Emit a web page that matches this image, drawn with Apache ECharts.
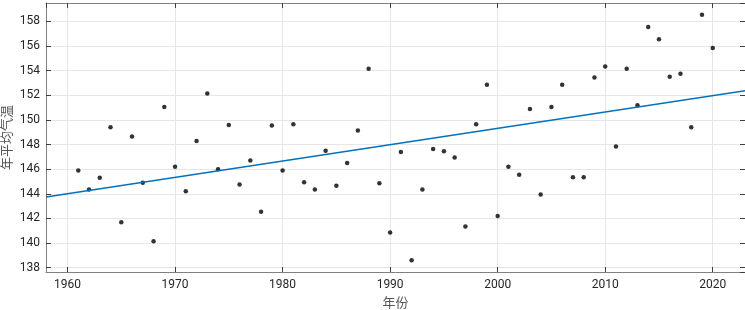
<!DOCTYPE html>
<html>
<head>
<meta charset="utf-8">
<script src="https://cdn.jsdelivr.net/npm/echarts@6/dist/echarts.min.js"></script>
<style>
  html, body { margin: 0; padding: 0; background: #fff; }
  #main { width: 745px; height: 310px; }
</style>
</head>
<body>
<div id="main"></div>
<script>
// 年份 / 年平均气温
var years = [1961, 1962, 1963, 1964, 1965, 1966, 1967, 1968, 1969, 1970,
             1971, 1972, 1973, 1974, 1975, 1976, 1977, 1978, 1979, 1980,
             1981, 1982, 1983, 1984, 1985, 1986, 1987, 1988, 1989, 1990,
             1991, 1992, 1993, 1994, 1995, 1996, 1997, 1998, 1999, 2000,
             2001, 2002, 2003, 2004, 2005, 2006, 2007, 2008, 2009, 2010,
             2011, 2012, 2013, 2014, 2015, 2016, 2017, 2018, 2019, 2020];
var temps = [145.9, 144.35, 145.3, 149.4, 141.7, 148.65, 144.9, 140.15, 151.05, 146.2,
             144.2, 148.3, 152.15, 146.0, 149.6, 144.75, 146.7, 142.55, 149.55, 145.9,
             149.65, 144.95, 144.35, 147.5, 144.65, 146.5, 149.15, 154.15, 144.85, 140.85,
             147.4, 138.6, 144.35, 147.65, 147.45, 146.95, 141.35, 149.65, 152.85, 142.2,
             146.2, 145.55, 150.9, 143.95, 151.05, 152.85, 145.35, 145.35, 153.45, 154.35,
             147.85, 154.15, 151.2, 157.55, 156.55, 153.5, 153.75, 149.4, 158.55, 155.85];
// 趋势线两端
var trendYears = [1958, 2023];
var trendTemps = [143.75, 152.38];

var xMin = 1958, xMax = 2023;
var yMin = 137.65, yMax = 159.5;

var pts = years.map(function (y, i) { return [y, temps[i]]; });
var trend = trendYears.map(function (y, i) { return [y, trendTemps[i]]; });

var labelFont = 'Roboto, "Noto Sans", sans-serif';
var axisGray = '#808080';
var tickColor = '#404040';

option = {
    animation: false,
    backgroundColor: '#fff',
    grid: { left: 46, right: 0, top: 3, bottom: 38, containLabel: false, outerBoundsMode: 'none' },
    xAxis: [{
        type: 'value',
        min: xMin,
        max: xMax,
        splitNumber: 6,
        name: '年份',
        nameLocation: 'middle',
        nameGap: 24,
        nameMoveOverlap: false,
        nameTextStyle: { color: '#555', fontSize: 13, fontFamily: '"Noto Sans CJK SC"' },
        axisLine: { show: true, lineStyle: { color: axisGray } },
        axisTick: { show: true, inside: true, length: 5, lineStyle: { color: tickColor } },
        axisLabel: { color: '#262626', fontSize: 12, fontFamily: labelFont, margin: 7,
                     showMinLabel: false, showMaxLabel: false,
                     formatter: function (v) { return String(v); } },
        splitLine: { show: true, lineStyle: { color: '#e6e6e6' } }
    }, {
        type: 'value',
        position: 'top',
        min: xMin,
        max: xMax,
        splitNumber: 6,
        axisLine: { show: true, lineStyle: { color: axisGray } },
        axisTick: { show: true, inside: true, length: 5, lineStyle: { color: tickColor } },
        axisLabel: { show: false },
        splitLine: { show: false }
    }],
    yAxis: [{
        type: 'value',
        min: yMin,
        max: yMax,
        splitNumber: 10,
        name: '年平均气温',
        nameLocation: 'middle',
        nameGap: 33,
        nameMoveOverlap: false,
        nameTextStyle: { color: '#555', fontSize: 13, fontFamily: '"Noto Sans CJK SC"' },
        axisLine: { show: true, lineStyle: { color: axisGray } },
        axisTick: { show: true, inside: true, length: 5, lineStyle: { color: tickColor } },
        axisLabel: { color: '#262626', fontSize: 12, fontFamily: labelFont, margin: 6,
                     showMinLabel: false, showMaxLabel: false },
        splitLine: { show: true, lineStyle: { color: '#e6e6e6' } }
    }, {
        type: 'value',
        position: 'right',
        min: yMin,
        max: yMax,
        splitNumber: 10,
        axisLine: { show: true, lineStyle: { color: axisGray } },
        axisTick: { show: true, inside: true, length: 5, lineStyle: { color: tickColor } },
        axisLabel: { show: false },
        splitLine: { show: false }
    }],
    series: [
        {
            name: 'temp',
            type: 'scatter',
            symbol: 'circle',
            symbolSize: 4.5,
            itemStyle: { color: '#000' },
            data: pts
        },
        {
            name: 'trend',
            type: 'line',
            symbol: 'none',
            lineStyle: { color: '#0072BD', width: 1.5 },
            data: trend
        }
    ]
};
var myChart = echarts.init(document.getElementById('main'));
myChart.setOption(option);
</script>
</body>
</html>
